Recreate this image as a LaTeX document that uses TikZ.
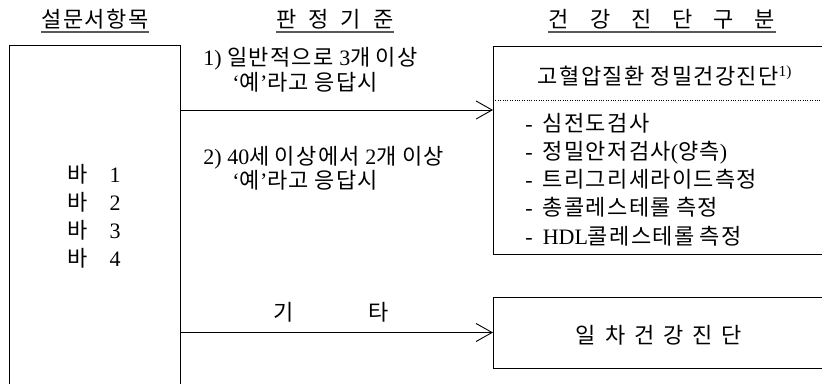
\documentclass[tikz,border=0pt]{standalone}
\usepackage{fontspec}
\setmainfont{Liberation Serif}
\newfontfamily\kr[LetterSpace=6]{Noto Sans CJK KR}
\usetikzlibrary{arrows.meta}
\newcommand\K[1]{{\kr #1}}
\begin{document}
\begin{tikzpicture}[x=1pt,y=-1pt, line width=0.9pt,
  box/.style={draw, rectangle, inner sep=0pt, outer sep=0pt, anchor=north west},
  txt/.style={inner sep=0pt, anchor=base west, font=\fontsize{22}{28}\selectfont},
  hd/.style={inner sep=0pt, anchor=base, font=\fontsize{22}{26}\selectfont},
  ul/.style={draw=black!65, line width=1.3pt},
  arr/.style={-{Straight Barb[length=16pt,width=18pt,line width=0.9pt]}}]
\clip (0,0) rectangle (822,383);
\fill[white] (0,0) rectangle (822,383);
% boxes
\node[box, minimum width=171pt, minimum height=360pt] (src) at (9,45) {};
\node[box, minimum width=340pt, minimum height=208pt] (res1) at (493,46) {};
\node[box, minimum width=340pt, minimum height=71pt] (res2) at (493,297) {};
\coordinate (d1) at (0,100);
\draw[dash pattern=on 0.8pt off 1.6pt, line width=0.7pt] (res1.west |- d1) -- (res1.east |- d1);
% connectors
\coordinate (a1) at (0,110);
\draw[arr] (src.east |- a1) -- (res1.west |- a1);
\draw[arr] (src.east |- res2.west) -- (res2.west);
% headers
\node[hd] (h1) at (95,27) {\K{설문서항목}};
\node[hd] (h2) at (335,27) {\K{판}\hspace{12pt}\K{정}\hspace{12pt}\K{기}\hspace{12pt}\K{준}};
\node[hd] (h3) at (662,27) {\K{건}\hspace{21pt}\K{강}\hspace{21pt}\K{진}\hspace{21pt}\K{단}\hspace{21pt}\K{구}\hspace{21pt}\K{분}};
\foreach \h in {h1,h2,h3}
  \draw[ul] ([yshift=-5pt]\h.base west) -- ([yshift=-5pt]\h.base east);
% criteria
\node[txt] (c1a) at (203,65) {1) \K{일반적으로} 3\K{개} \K{이상}};
\node[txt] (c1b) at (232,90) {‘\K{예}’\K{라고} \K{응답시}};
\node[txt] (c2a) at (203,164) {2) 40\K{세} \K{이상에서} 2\K{개} \K{이상}};
\node[txt] (c2b) at (232,188) {‘\K{예}’\K{라고} \K{응답시}};
\node[txt] (etc) at (273,320) {\K{기}\hspace{75pt}\K{타}};
% items
\node[txt] (b1) at (67,182) {\K{바}\hspace{22pt}1};
\node[txt] (b2) at (67,210) {\K{바}\hspace{22pt}2};
\node[txt] (b3) at (67,238) {\K{바}\hspace{22pt}3};
\node[txt] (b4) at (67,266) {\K{바}\hspace{22pt}4};
% results
\node[txt, anchor=base] (t1) at (665,84) {\K{고혈압질환 정밀건강진단}\textsuperscript{1)}};
\node[txt] (r1) at (525,131) {-\hspace{10pt}\K{심전도검사}};
\node[txt] (r2) at (525,159) {-\hspace{10pt}\K{정밀안저검사}(\K{양측})};
\node[txt] (r3) at (525,187) {-\hspace{10pt}\K{트리그리세라이드측정}};
\node[txt] (r4) at (525,215) {-\hspace{10pt}\K{총콜레스테롤} \K{측정}};
\node[txt] (r5) at (525,244) {-\hspace{10pt}HDL\K{콜레스테롤} \K{측정}};
\node[txt, anchor=base] (t2) at (659,343) {\K{일}\hspace{9pt}\K{차}\hspace{9pt}\K{건}\hspace{9pt}\K{강}\hspace{9pt}\K{진}\hspace{9pt}\K{단}};
\end{tikzpicture}
\end{document}
